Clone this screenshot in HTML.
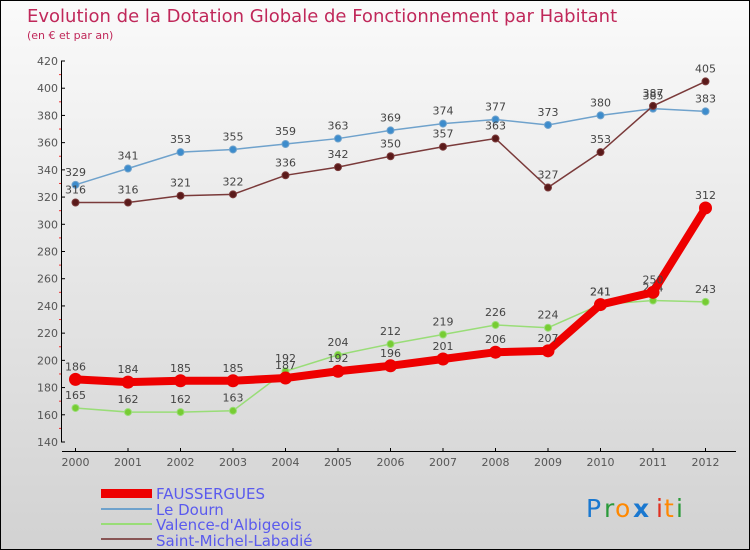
<!DOCTYPE html>
<html><head><meta charset="utf-8"><style>
body{margin:0}
#c{position:relative;width:748px;height:548px;border:1px solid #000;background:linear-gradient(#fafafa,#d2d2d2);font-family:"DejaVu Sans","Liberation Sans",sans-serif;overflow:hidden}
svg text{font-family:"DejaVu Sans","Liberation Sans",sans-serif}
</style></head><body>
<div id="c">
<svg id="s" width="748" height="548" xmlns="http://www.w3.org/2000/svg">
<text x="26" y="21" font-size="18" fill="#c0285a">Evolution de la Dotation Globale de Fonctionnement par Habitant</text>
<text x="26" y="38" font-size="11" fill="#c0285a">(en € et par an)</text>
<g id="axes"></g><g id="series"></g>
<g>
<rect x="100" y="488" width="51" height="9" fill="#e00"/>
<text x="155" y="498" font-size="15" fill="#5a5aee">FAUSSERGUES</text>
<line x1="100" y1="508" x2="151" y2="508" stroke="#6fa2cc" stroke-width="2"/>
<text x="155" y="514" font-size="15" fill="#5a5aee">Le Dourn</text>
<line x1="100" y1="523" x2="151" y2="523" stroke="#99dd77" stroke-width="2"/>
<text x="155" y="529" font-size="15" fill="#5a5aee">Valence-d'Albigeois</text>
<line x1="100" y1="538" x2="151" y2="538" stroke="#885555" stroke-width="2"/>
<text x="155" y="545" font-size="15" fill="#5a5aee">Saint-Michel-Labadié</text>
</g>
<g font-size="25">
<text x="585" y="516" fill="#1a78d0">P</text><text x="603" y="516" fill="#2a9a3a">r</text><text x="614" y="516" fill="#ff8800">o</text><text x="632" y="516" fill="#1a78d0" font-weight="bold">x</text><text x="655" y="516" fill="#e03020">i</text><text x="663" y="516" fill="#ff8800">t</text><text x="675" y="516" fill="#2a9a3a">i</text>
</g>
</svg>
</div>
<script>
const years=[2000,2001,2002,2003,2004,2005,2006,2007,2008,2009,2010,2011,2012];
const yTicks=[140,160,180,200,220,240,260,280,300,320,340,360,380,400,420];
const faus=[186,184,185,185,187,192,196,201,206,207,241,250,312];
const dourn=[329,341,353,355,359,363,369,374,377,373,380,385,383];
const valence=[165,162,162,163,192,204,212,219,226,224,241,244,243];
const stmichel=[316,316,321,322,336,342,350,357,363,327,353,387,405];
const NS="http://www.w3.org/2000/svg";
const X=i=>74.5+i*52.5;
const Y=v=>60+(420-v)*(381/280);
function mk(t,a,p){const e=document.createElementNS(NS,t);for(const k in a)e.setAttribute(k,a[k]);p.appendChild(e);return e;}
const ax=document.getElementById('axes');
let yl=mk('line',{x1:60.5,y1:60,x2:60.5,y2:441,stroke:'#000'},ax);


yTicks.forEach(v=>{
 mk('line',{x1:60,y1:Y(v),x2:64,y2:Y(v),stroke:'#000'},ax);
 if(v<420)mk('line',{x1:58,y1:Y(v+10),x2:60,y2:Y(v+10),stroke:'#e33'},ax);
 const t=mk('text',{x:57,y:Y(v)+4,'font-size':11,'text-anchor':'end',fill:'#555'},ax);t.textContent=v;
 
 
});
let xl=mk('line',{x1:61,y1:450.5,x2:735,y2:450.5,stroke:'#000'},ax);


years.forEach((y,i)=>{
 mk('line',{x1:X(i),y1:447,x2:X(i),y2:451,stroke:'#000'},ax);
 const t=mk('text',{x:X(i),y:465,'font-size':11,'text-anchor':'middle',fill:'#555'},ax);t.textContent=y;
 
 
});
const sg=document.getElementById('series');
function series(name,vals,col,dot,w,r){
 const g=mk('g',{},sg);
 
 
 mk('polyline',{points:vals.map((v,i)=>X(i)+','+Y(v)).join(' '),fill:'none',stroke:col,'stroke-width':w},g);
 vals.forEach((v,i)=>{
  const c=mk('circle',{cx:X(i),cy:Y(v),r:r,fill:dot,stroke:col,'stroke-width':1},g);
  
  
  const t=mk('text',{x:X(i),y:Y(v)-9,'font-size':11,'text-anchor':'middle',fill:'#444'},g);t.textContent=v;
  
  
 });
}
series('le-dourn-series',dourn,'#6fa2cc','#3d8ccc',1.5,3.5);
series('saint-michel-series',stmichel,'#7a3a3a','#5a1a1a',1.5,3.5);
series('valence-series',valence,'#99dd77','#77cc33',1.5,3.5);
series('fausserguse-series',faus,'#ee0000','#ee0000',8,6);
</script>
</body></html>
